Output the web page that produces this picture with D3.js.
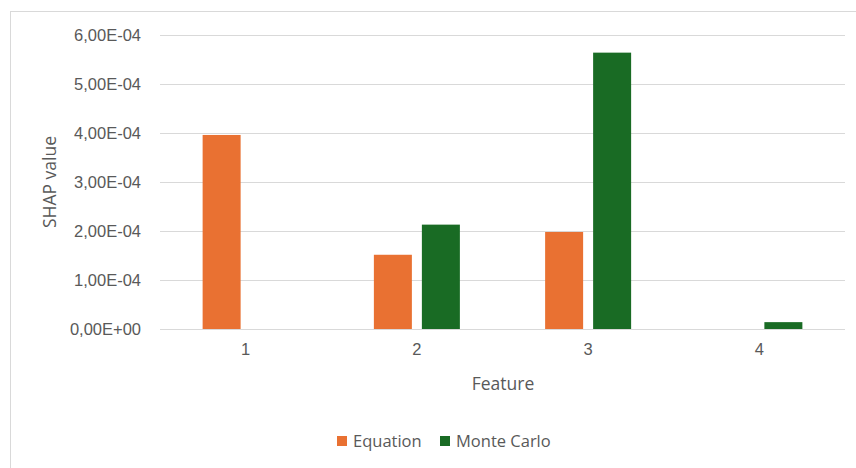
<!DOCTYPE html>
<html>
<head>
<meta charset="utf-8">
<script src="https://cdn.jsdelivr.net/npm/d3@7"></script>
<style>
  html, body { margin: 0; padding: 0; background: #fff; }
  svg { display: block; font-family: "Open Sans", "Noto Sans", sans-serif; }
</style>
</head>
<body>
<svg id="chart" width="856" height="468"></svg>
<script>
// Grouped SHAP values per feature, two estimation methods
const features = ["1", "2", "3", "4"];
const seriesNames = ["Equation", "Monte Carlo"];
const equationValues = [3.96e-4, 1.515e-4, 1.98e-4, 0];
const monteCarloValues = [0, 2.13e-4, 5.64e-4, 1.4e-5];
const seriesColors = ["#E97132", "#196B24"];
const yTicks = [0, 1e-4, 2e-4, 3e-4, 4e-4, 5e-4, 6e-4];

const svg = d3.select("#chart");
const W = 856, H = 468;
const margin = { left: 160, right: 11, top: 35, bottom: 139 };
const innerW = W - margin.left - margin.right;
const innerH = H - margin.top - margin.bottom;

// chart area frame (runs past the right and bottom edges of the canvas)
svg.append("rect")
  .attr("x", 10.5).attr("y", 11.5)
  .attr("width", 860).attr("height", 470)
  .attr("fill", "#fff").attr("stroke", "#D9D9D9").attr("stroke-width", 1);

const g = svg.append("g").attr("transform", `translate(${margin.left},${margin.top})`);

const x = d3.scaleBand().domain(features).range([0, innerW]).paddingInner(0).paddingOuter(0);
const y = d3.scaleLinear().domain([0, 6e-4]).range([innerH, 0]);

const fmt = v => {
  if (v === 0) return "0,00E+00";
  const e = Math.floor(Math.log10(v) + 1e-9);
  const m = v / Math.pow(10, e);
  const exp = (e < 0 ? "-" : "+") + String(Math.abs(e)).padStart(2, "0");
  return m.toFixed(2).replace(".", ",") + "E" + exp;
};

// horizontal gridlines
g.append("g")
  .selectAll("line")
  .data(yTicks)
  .join("line")
  .attr("x1", 0).attr("x2", innerW)
  .attr("y1", d => Math.round(y(d)) + 0.5).attr("y2", d => Math.round(y(d)) + 0.5)
  .attr("stroke", "#D9D9D9").attr("stroke-width", 1);

// y axis labels
const yAxis = d3.axisLeft(y).tickValues(yTicks).tickFormat(fmt).tickSize(0).tickPadding(19);
const yg = g.append("g").call(yAxis);
yg.select(".domain").remove();
yg.selectAll("text").attr("fill", "#595959").style("font-size", "16.5px");

// x axis labels
const xAxis = d3.axisBottom(x).tickSize(0).tickPadding(14);
const xg = g.append("g").attr("transform", `translate(0,${innerH})`).call(xAxis);
xg.select(".domain").remove();
xg.selectAll("text").attr("fill", "#595959").style("font-size", "16.5px");

// bars
const barW = 38, gap = 10;
const data = features.map((f, i) => ({ f, vals: [equationValues[i], monteCarloValues[i]] }));
const groups = g.selectAll(".grp").data(data).join("g")
  .attr("transform", d => `translate(${x(d.f) + x.bandwidth() / 2},0)`);
groups.selectAll("rect")
  .data(d => d.vals.map((v, k) => ({ v, k })))
  .join("rect")
  .attr("x", d => d.k === 0 ? -(barW + gap / 2) : gap / 2)
  .attr("width", barW)
  .attr("y", d => y(d.v))
  .attr("height", d => y(0) - y(d.v))
  .attr("fill", d => seriesColors[d.k]);

// axis titles
svg.append("text")
  .attr("transform", "translate(56,182) rotate(-90)")
  .attr("text-anchor", "middle")
  .attr("fill", "#595959").style("font-size", "17.5px")
  .text("SHAP value");
svg.append("text")
  .attr("x", 503).attr("y", 390)
  .attr("text-anchor", "middle")
  .attr("fill", "#595959").style("font-size", "17.5px")
  .text("Feature");

// legend
const legend = svg.append("g").attr("transform", "translate(337,441)");
const legendX = [0, 103];
seriesNames.forEach((name, i) => {
  const lg = legend.append("g").attr("transform", `translate(${legendX[i]},0)`);
  lg.append("rect").attr("x", 0).attr("y", -5).attr("width", 10).attr("height", 10).attr("fill", seriesColors[i]);
  lg.append("text").attr("x", 16).attr("y", 6)
    .attr("fill", "#595959").style("font-size", "16.5px").text(name);
});
</script>
</body>
</html>
